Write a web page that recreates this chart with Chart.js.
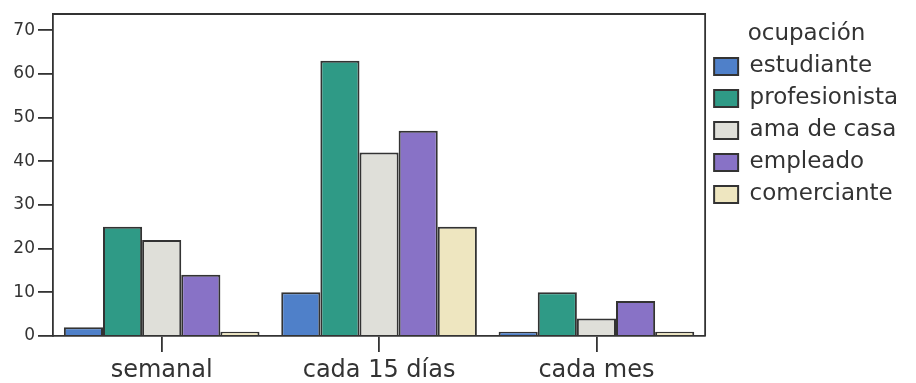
<!DOCTYPE html>
<html>
<head>
<meta charset="utf-8">
<script src="https://cdn.jsdelivr.net/npm/chart.js@4/dist/chart.umd.min.js"></script>
<style>
  html, body { margin: 0; padding: 0; background: #ffffff; }
  canvas { display: block; }
</style>
</head>
<body>
<canvas id="chart" width="916" height="383"></canvas>
<script>
// Frecuencia por ocupación
const categories = ['semanal', 'cada 15 días', 'cada mes'];
const occupations = ['estudiante', 'profesionista', 'ama de casa', 'empleado', 'comerciante'];
const estudiante    = [2, 10, 1];
const profesionista = [25, 63, 10];
const amaDeCasa     = [22, 42, 4];
const empleado      = [14, 47, 8];
const comerciante   = [1, 25, 1];
const yTicks = [0, 10, 20, 30, 40, 50, 60, 70];
const yMax = 73.7;

const seriesValues = [estudiante, profesionista, amaDeCasa, empleado, comerciante];
const fillColors = ['#4f80c9', '#2f9a86', '#dfdfd9', '#8872c6', '#eee6c0'];
const ink = '#333333';
const fontFamily = '"DejaVu Sans", sans-serif';

// Closes the plot frame on the top and right sides
const frame = {
  id: 'frame',
  afterDatasetsDraw(chart) {
    const { ctx, chartArea: a } = chart;
    ctx.save();
    ctx.strokeStyle = ink;
    ctx.lineWidth = 1.8;
    ctx.beginPath();
    ctx.moveTo(a.left, a.top);
    ctx.lineTo(a.right, a.top);
    ctx.lineTo(a.right, a.bottom);
    ctx.stroke();
    ctx.restore();
  }
};

new Chart(document.getElementById('chart'), {
  type: 'bar',
  data: {
    labels: categories,
    datasets: occupations.map((name, i) => ({
      label: name,
      data: seriesValues[i],
      backgroundColor: fillColors[i],
      borderColor: ink,
      borderWidth: 2,
      barPercentage: 1,
      categoryPercentage: 0.9
    }))
  },
  options: {
    responsive: false,
    devicePixelRatio: 1,
    animation: false,
    layout: { padding: { top: 14, left: 0, right: 8, bottom: 0 } },
    plugins: {
      tooltip: { enabled: false },
      legend: {
        position: 'right',
        align: 'start',
        title: {
          display: true,
          text: 'ocupación',
          color: ink,
          font: { family: fontFamily, size: 23, lineHeight: 1.0 },
          padding: { top: 9, bottom: 0 }
        },
        labels: {
          color: ink,
          font: { family: fontFamily, size: 23 },
          boxWidth: 24,
          boxHeight: 17,
          padding: 9
        }
      }
    },
    scales: {
      x: {
        afterFit(scale) { scale.height = 47; },
        grid: {
          offset: false,
          drawOnChartArea: false,
          drawTicks: true,
          tickLength: 16,
          color: ink,
          lineWidth: 1.8
        },
        border: { display: true, color: ink, width: 1.8 },
        ticks: {
          color: ink,
          font: { family: fontFamily, size: 24 },
          padding: 4,
          maxRotation: 0
        }
      },
      y: {
        min: 0,
        max: yMax,
        afterFit(scale) { scale.width = 53; },
        afterBuildTicks(scale) { scale.ticks = yTicks.map(v => ({ value: v })); },
        grid: {
          drawOnChartArea: false,
          drawTicks: true,
          tickLength: 15,
          color: ink,
          lineWidth: 1.8
        },
        border: { display: true, color: ink, width: 1.8 },
        ticks: {
          color: ink,
          font: { family: fontFamily, size: 17 },
          padding: 3
        }
      }
    }
  },
  plugins: [frame]
});
</script>
</body>
</html>
